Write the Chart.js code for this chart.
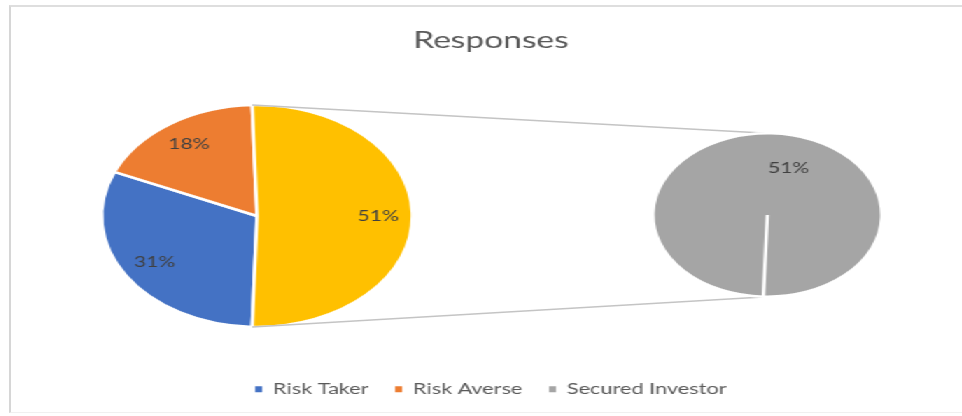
<!DOCTYPE html>
<html>
<head>
<meta charset="utf-8">
<title>Responses</title>
<script src="https://cdn.jsdelivr.net/npm/chart.js@4.4.0/dist/chart.umd.min.js"></script>
<style>
  body { margin: 0; background: #fff; width: 962px; height: 416px; overflow: hidden; position: relative; }
  #frame { position: absolute; left: 9px; top: 5px; width: 1000px; height: 405px;
           border-left: 2px solid #d6d6d6; border-top: 2px solid #dedede; border-bottom: 1px solid #f0f0f0; }
  /* whole chart is drawn narrow and stretched sideways, so the pies come out oval */
  #wrap { position: absolute; left: 10px; top: 0; width: 687px; height: 416px;
          transform: scaleX(1.4); transform-origin: 0 0; }
  #wrap canvas { position: absolute; }
  #mainPie { left: 0; top: 0; }
  #subPie { left: 458px; top: 132px; }
</style>
</head>
<body>
<div id="frame"></div>
<div id="wrap">
  <canvas id="mainPie" width="687" height="416"></canvas>
  <canvas id="subPie" width="166" height="166"></canvas>
</div>
<script>
const categories = ["Risk Taker", "Risk Averse", "Secured Investor"];
const shares = [31, 18, 51];
const categoryColors = ["#4472C4", "#ED7D31", "#A5A5A5"];
const splitColor = "#FFC000"; // slice that is broken out into the small pie
const splitIndex = 2;

const FONT = "Lato, 'Open Sans', sans-serif";

// percent text inside each slice
const sliceLabels = {
  id: "sliceLabels",
  afterDatasetsDraw(chart, args, opts) {
    const ctx = chart.ctx;
    const values = chart.data.datasets[0].data;
    ctx.save();
    ctx.font = opts.font;
    ctx.fillStyle = opts.color;
    ctx.textAlign = "center";
    ctx.textBaseline = "middle";
    chart.getDatasetMeta(0).data.forEach((arc, i) => {
      const mid = (arc.startAngle + arc.endAngle) / 2 + (opts.shift || 0) * Math.PI / 180;
      const r = arc.outerRadius * opts.ratio;
      ctx.fillText(values[i] + "%", arc.x + r * Math.cos(mid), arc.y + r * Math.sin(mid));
    });
    ctx.restore();
  }
};

// put the main pie where we want it instead of the middle of the canvas
const placePie = {
  id: "placePie",
  afterLayout(chart, args, opts) {
    const h = opts.size / 2;
    chart.chartArea = {
      left: opts.cx - h, right: opts.cx + h,
      top: opts.cy - h, bottom: opts.cy + h,
      width: opts.size, height: opts.size
    };
  }
};

// ===== small pie: the broken-out slice =====
const subChart = new Chart(document.getElementById("subPie"), {
  type: "pie",
  data: {
    labels: [categories[splitIndex]],
    datasets: [{
      data: [shares[splitIndex]],
      backgroundColor: [categoryColors[splitIndex]],
      borderColor: "#fff",
      borderWidth: 2.5
    }]
  },
  options: {
    responsive: false,
    animation: false,
    events: [],
    rotation: 182,
    plugins: {
      legend: { display: false },
      tooltip: { enabled: false },
      sliceLabels: { ratio: 0.6, shift: 16, font: "15px " + FONT, color: "#404040" }
    }
  },
  plugins: [sliceLabels]
});

// lines from the split slice over to the small pie
const connectors = {
  id: "connectors",
  afterDatasetsDraw(chart) {
    const split = chart.getDatasetMeta(0).data[splitIndex];
    const sub = subChart.getDatasetMeta(0).data[0];
    const ox = subChart.canvas.offsetLeft, oy = subChart.canvas.offsetTop;
    const R = split.outerRadius;
    const ctx = chart.ctx;
    ctx.save();
    ctx.strokeStyle = "#c4c4c4";
    ctx.lineWidth = 1.5;
    ctx.beginPath();
    ctx.moveTo(split.x + R * Math.cos(split.startAngle), split.y + R * Math.sin(split.startAngle));
    ctx.lineTo(ox + sub.x, oy + sub.y - sub.outerRadius);
    ctx.moveTo(split.x + R * Math.cos(split.endAngle), split.y + R * Math.sin(split.endAngle));
    ctx.lineTo(ox + sub.x, oy + sub.y + sub.outerRadius);
    ctx.stroke();
    ctx.restore();
  }
};

// ===== main pie =====
const mainColors = categoryColors.map((c, i) => i === splitIndex ? splitColor : c);

new Chart(document.getElementById("mainPie"), {
  type: "pie",
  data: {
    labels: categories,
    datasets: [{
      data: shares,
      backgroundColor: mainColors,
      borderColor: "#fff",
      borderWidth: 2.5
    }]
  },
  options: {
    responsive: false,
    animation: false,
    events: [],
    rotation: 181.8,
    layout: { padding: { bottom: 9 } },
    plugins: {
      placePie: { cx: 176.4, cy: 216, size: 224.5 },
      sliceLabels: { ratio: 0.78, font: "15px " + FONT, color: "#404040" },
      tooltip: { enabled: false },
      title: {
        display: true,
        text: "Responses",
        color: "#595959",
        font: { family: FONT, size: 24, weight: "normal" },
        padding: { top: 26, bottom: 10 }
      },
      legend: {
        position: "bottom",
        labels: {
          color: "#595959",
          font: { family: FONT, size: 15.5 },
          boxWidth: 5,
          boxHeight: 6,
          padding: 19,
          generateLabels: () => categories.map((name, i) => ({
            text: name,
            fillStyle: categoryColors[i],
            strokeStyle: categoryColors[i],
            lineWidth: 0,
            fontColor: "#595959",
            hidden: false,
            index: i
          }))
        }
      }
    }
  },
  plugins: [placePie, connectors, sliceLabels]
});
</script>
</body>
</html>
